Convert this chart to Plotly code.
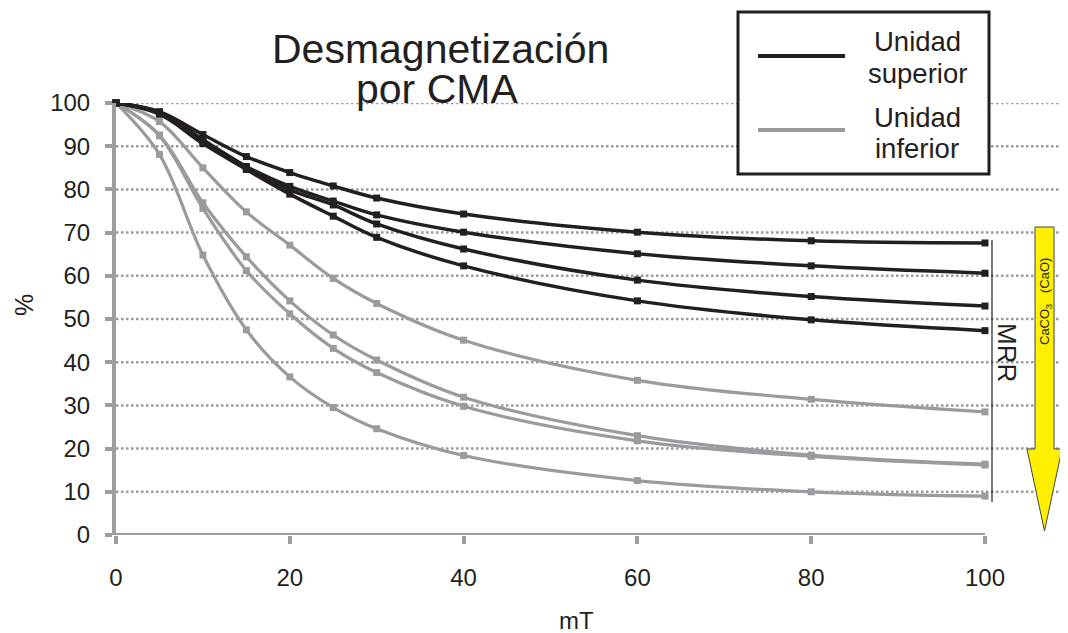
import plotly.graph_objects as go

# ---------------- data ----------------
mT = [0, 5, 10, 15, 20, 25, 30, 40, 60, 80, 100]

superior_1 = [100, 98.0, 92.7, 87.6, 83.9, 80.8, 78.0, 74.3, 70.1, 68.1, 67.6]
superior_2 = [100, 97.8, 91.5, 85.3, 80.7, 77.3, 74.1, 70.1, 65.1, 62.3, 60.6]
superior_3 = [100, 97.6, 91.0, 85.0, 79.9, 76.4, 72.0, 66.2, 59.0, 55.2, 53.0]
superior_4 = [100, 97.4, 90.6, 84.6, 78.9, 73.8, 68.9, 62.3, 54.2, 49.8, 47.3]

inferior_1 = [100, 95.7, 85.0, 74.8, 67.1, 59.4, 53.6, 45.1, 35.8, 31.4, 28.5]
inferior_2 = [100, 92.6, 76.9, 64.4, 54.2, 46.3, 40.5, 31.9, 23.0, 18.5, 16.4]
inferior_3 = [100, 92.4, 75.6, 61.2, 51.2, 43.2, 37.6, 29.8, 21.8, 18.2, 16.2]
inferior_4 = [100, 88.1, 64.8, 47.5, 36.6, 29.5, 24.6, 18.4, 12.6, 10.0, 9.0]

x_ticks = [0, 20, 40, 60, 80, 100]
y_ticks = [0, 10, 20, 30, 40, 50, 60, 70, 80, 90, 100]
grid_vals = [10, 20, 30, 40, 50, 60, 70, 80, 90, 100]

title_l1 = "Desmagnetización"
title_l2 = "por CMA"
legend_labels = [["Unidad", "superior"], ["Unidad", "inferior"]]
x_title = "mT"
y_title = "%"
mrr_text = "MRR"
arrow_text = "CaCO<sub>3</sub>   (CaO)"

# ---------------- style ----------------
OFF = 8  # page body margin: screen pixel = figure pixel + OFF
W, H = 1068 - OFF, 633 - OFF
# plot area in screen pixels
L, R, T, B = 116, 1067, 103, 535
BLACK = "#231f20"
GRAY = "#9a9b9f"
AXIS = "#9d9ea2"
YELLOW = "#fff000"
FONT = "Liberation Sans, Arial, sans-serif"
X_MAX = 100 * (R - L) / (985 - L)


def px(xp):
    return (xp - L) / (R - L)


def py(yp):
    return (B - yp) / (B - T)


fig = go.Figure()

for ser in [inferior_1, inferior_2, inferior_3, inferior_4]:
    fig.add_trace(go.Scatter(
        x=mT, y=ser, mode="lines+markers",
        line=dict(color=GRAY, width=3.2, shape="spline", smoothing=1),
        marker=dict(symbol="square", size=7, color=GRAY),
        cliponaxis=False, showlegend=False, hoverinfo="x+y"))

for ser in [superior_1, superior_2, superior_3, superior_4]:
    fig.add_trace(go.Scatter(
        x=mT, y=ser, mode="lines+markers",
        line=dict(color=BLACK, width=3.5, shape="spline", smoothing=1),
        marker=dict(symbol="square", size=7, color=BLACK),
        cliponaxis=False, showlegend=False, hoverinfo="x+y"))

shapes = []
# dotted gridlines
for g in grid_vals:
    shapes.append(dict(type="line", xref="paper", yref="y", x0=0, x1=1, y0=g, y1=g,
                       line=dict(color=GRAY, width=2.5, dash="2.5px,2.5px"), layer="below"))
# x axis line (0..100)
shapes.append(dict(type="line", xref="x", yref="y", x0=0, x1=100, y0=0, y1=0,
                   line=dict(color=AXIS, width=4), layer="above"))
# MRR bracket line
shapes.append(dict(type="line", xref="paper", yref="paper", x0=px(992), x1=px(992),
                   y0=py(240), y1=py(502), line=dict(color=BLACK, width=1.2)))
# yellow arrow
ax_l, ax_r = px(1035), px(1054)
hx_l, hx_r = px(1027), px(1062)
ax_c = px(1044.5)
y_top, y_head, y_tip = py(227), py(449), py(531)
path = (f"M {ax_l},{y_top} L {ax_r},{y_top} L {ax_r},{y_head} L {hx_r},{y_head} "
        f"L {ax_c},{y_tip} L {hx_l},{y_head} L {ax_l},{y_head} Z")
shapes.append(dict(type="path", xref="paper", yref="paper", path=path,
                   fillcolor=YELLOW, line=dict(color="#444444", width=1)))
# legend box
shapes.append(dict(type="rect", xref="paper", yref="paper", x0=px(738), x1=px(989),
                   y0=py(174), y1=py(12), fillcolor="white",
                   line=dict(color=BLACK, width=3)))
shapes.append(dict(type="line", xref="paper", yref="paper", x0=px(758), x1=px(845),
                   y0=py(56), y1=py(56), line=dict(color=BLACK, width=4)))
shapes.append(dict(type="line", xref="paper", yref="paper", x0=px(758), x1=px(845),
                   y0=py(130), y1=py(130), line=dict(color=GRAY, width=4)))

annotations = []


def ann(text, xp, yp, size, angle=0, color=BLACK):
    annotations.append(dict(text=text, xref="paper", yref="paper", x=px(xp), y=py(yp),
                            xanchor="center", yanchor="middle", showarrow=False,
                            textangle=angle, font=dict(family=FONT, size=size, color=color)))


ann(title_l1, 440, 49, 41)
ann(title_l2, 437, 89, 41)
ann(legend_labels[0][0], 917, 42, 27.5)
ann(legend_labels[0][1], 917, 73, 27.5)
ann(legend_labels[1][0], 917, 117, 27.5)
ann(legend_labels[1][1], 917, 148, 27.5)
ann(x_title, 576, 620, 24)
ann(y_title, 24, 305, 25, angle=-90)
ann(mrr_text, 1007, 352, 26, angle=90)
ann(arrow_text, 1045, 302, 13, angle=-90)

fig.update_layout(
    width=W, height=H,
    margin=dict(l=L - OFF, r=1068 - R, t=T - OFF, b=633 - B, pad=0),
    plot_bgcolor="white", paper_bgcolor="white",
    font=dict(family=FONT, color=BLACK),
    shapes=shapes, annotations=annotations,
    xaxis=dict(range=[0, X_MAX], tickvals=x_ticks, ticktext=[str(v) for v in x_ticks],
               showgrid=False, zeroline=False, showline=False,
               ticks="outside", ticklen=8, tickwidth=4, tickcolor=AXIS,
               tickfont=dict(size=24, color=BLACK, family=FONT), ticklabelstandoff=13),
    yaxis=dict(range=[0, 100], tickvals=y_ticks, ticktext=[str(v) for v in y_ticks],
               showgrid=False, zeroline=False, showline=True, linecolor=AXIS, linewidth=4,
               ticks="outside", ticklen=7, tickwidth=4, tickcolor=AXIS,
               tickfont=dict(size=24, color=BLACK, family=FONT), ticklabelstandoff=10),
    showlegend=False,
)

fig.write_html("out.html")
